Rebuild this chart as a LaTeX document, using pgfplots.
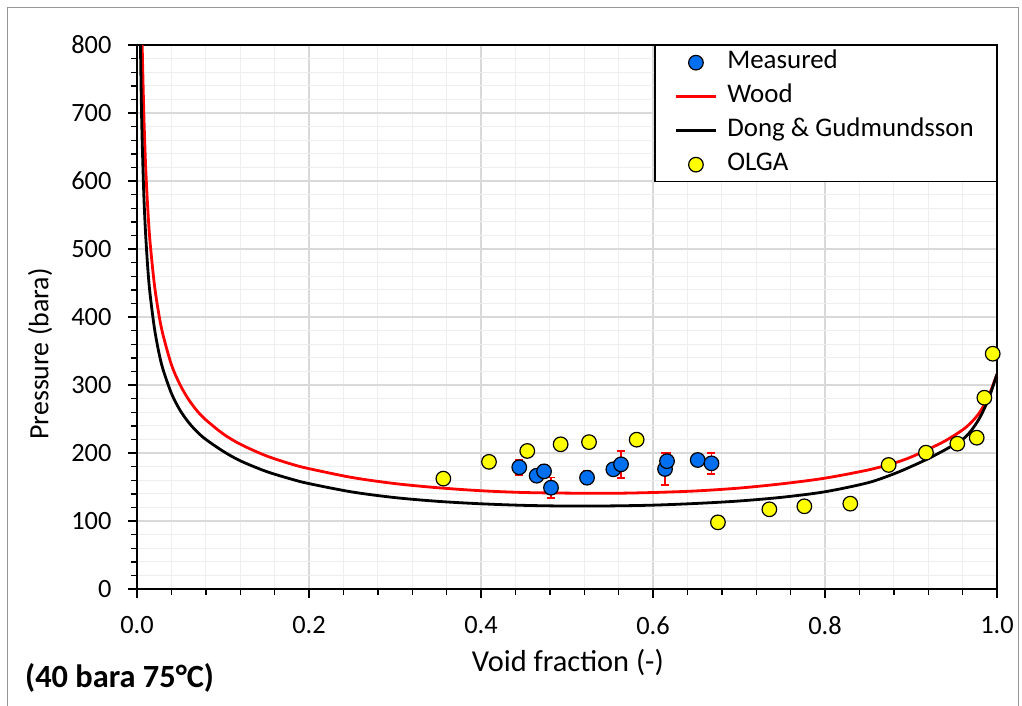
\documentclass[border=0pt]{standalone}
\usepackage{fontspec}
\setmainfont{Carlito}
\usepackage{pgfplots}
\pgfplotsset{compat=1.18}
\definecolor{mblue}{RGB}{0,112,240}
\definecolor{oyellow}{RGB}{255,255,0}
\definecolor{majgrid}{RGB}{217,217,217}
\definecolor{mingrid}{RGB}{238,238,238}
\definecolor{framegray}{RGB}{150,150,150}
\begin{document}
\begin{tikzpicture}
\useasboundingbox (0,0) rectangle (1022bp,706bp);
\draw[framegray, line width=1bp] (7bp,-10bp) rectangle (1018bp,698bp);
\begin{axis}[
  at={(137bp,117bp)}, anchor=south west,
  width=860bp, height=544bp, scale only axis,
  xmin=0, xmax=1, ymin=0, ymax=800,
  xtick={0,0.2,0.4,0.6,0.8,1},
  ytick={0,100,200,300,400,500,600,700,800},
  minor x tick num=4, minor y tick num=4,
  grid=both,
  major grid style={majgrid, line width=1.2bp},
  minor grid style={mingrid, line width=1.2bp},
  axis line style={black, line width=1.8bp},
  tick align=outside, tick pos=left,
  major tick length=9bp, minor tick length=6bp,
  every tick/.style={black, line width=1.4bp},
  x tick label style={/pgf/number format/fixed, /pgf/number format/fixed zerofill, /pgf/number format/precision=1, yshift=-15bp},
  y tick label style={xshift=-13bp},
  /pgf/number format/assume math mode=true,
  tick label style={font=\fontsize{26.5}{30}\selectfont},
  xlabel={Void fraction (-)}, ylabel={Pressure (bara)},
  xlabel style={at={(axis description cs:0.501,-0.136)}, anchor=center, font=\fontsize{30.5}{34}\selectfont},
  ylabel style={at={(axis description cs:-0.1128,0.432)}, anchor=center, font=\fontsize{28}{32}\selectfont},
  legend cell align=left,
  legend style={at={(1,1)}, anchor=north east, draw=black, line width=1.3bp, fill=white,
    font=\fontsize{27}{30}\selectfont, inner xsep=19.5bp, inner ysep=1bp, row sep=2bp,
    nodes={inner sep=3bp, text height=19bp, text depth=7bp},
    /tikz/every odd column/.append style={column sep=7bp}},
  legend image code/.code={\draw[mark repeat=2,mark phase=2,#1] plot coordinates {(0bp,0bp) (20bp,0bp) (40bp,0bp)};},
]
\addlegendimage{only marks, mark=*, mark size=7.3bp, mark options={fill=mblue, draw=black, line width=1.2bp}}
\addlegendentry{Measured}
\addlegendimage{red, line width=2.8bp}
\addlegendentry{Wood}
\addlegendimage{black, line width=2.8bp}
\addlegendentry{Dong \& Gudmundsson}
\addlegendimage{only marks, mark=*, mark size=7.3bp, mark options={fill=oyellow, draw=black, line width=1.2bp}}
\addlegendentry{OLGA}

% Wood
\addplot[red, line width=2.8bp, smooth, forget plot] coordinates {
(0.0060,800) (0.0080,696) (0.0100,623) (0.0125,560) (0.0150,513) (0.0200,450)
(0.0250,407) (0.0300,375) (0.0400,330) (0.0500,300.5) (0.0600,278.7) (0.0700,261.8)
(0.0800,248.8) (0.1000,228.3) (0.1200,213) (0.1500,196) (0.1800,183.5) (0.2000,177)
(0.2500,164) (0.3000,155) (0.3500,148.9) (0.4000,144.5) (0.4500,141.9) (0.5000,141)
(0.5500,140.7) (0.6000,141.9) (0.6500,144.2) (0.7000,148.4) (0.7500,154.7) (0.8000,163)
(0.8500,175) (0.8800,185) (0.9000,194) (0.9200,205.5) (0.9400,218) (0.9600,234)
(0.9700,245) (0.9800,260) (0.9900,283) (1.0000,316)
};
% Dong & Gudmundsson
\addplot[black, line width=2.8bp, smooth, forget plot] coordinates {
(0.0040,800) (0.0050,719) (0.0060,660) (0.0080,577) (0.0100,522.6) (0.0125,472.5)
(0.0150,436) (0.0200,385.7) (0.0250,350.4) (0.0300,324) (0.0400,287.8) (0.0500,263)
(0.0600,245) (0.0700,231) (0.0800,220) (0.1000,202.7) (0.1200,188.6) (0.1500,173)
(0.1800,161.4) (0.2000,155) (0.2500,142.7) (0.3000,134.4) (0.3500,128.9) (0.4000,125.3)
(0.4500,123) (0.5000,122) (0.5500,122.2) (0.6000,123.3) (0.6500,125.8) (0.7000,129.4)
(0.7500,134.9) (0.8000,143) (0.8500,156.3) (0.8800,169.3) (0.9000,180) (0.9200,191.7)
(0.9400,205) (0.9600,220) (0.9700,233) (0.9800,252) (0.9900,279) (1.0000,316)
};
% Measured
\addplot[only marks, mark=*, mark size=7.3bp, mark options={fill=mblue, draw=black, line width=1.2bp}, forget plot,
  error bars/.cd, y dir=both, y explicit,
  error bar style={red, line width=1.8bp},
  error mark options={rotate=90, red, mark size=4bp, line width=1.8bp}]
coordinates {
(0.4445,179) +- (0,11)
(0.4647,166.6) +- (0,6)
(0.4733,173) +- (0,9)
(0.4814,149) +- (0,15)
(0.5233,163.7) +- (0,10)
(0.5539,176) +- (0,6)
(0.5628,183.3) +- (0,20)
(0.6140,176.5) +- (0,24)
(0.6163,188) +- (0,12)
(0.6520,189.7) +- (0,6)
(0.6680,184.8) +- (0,15.5)
};
% OLGA
\addplot[only marks, mark=*, mark size=7.3bp, mark options={fill=oyellow, draw=black, line width=1.2bp}, forget plot]
coordinates {
(0.3562,162.3) (0.4093,187) (0.4538,203) (0.4926,212.8) (0.5256,216) (0.5810,219.6)
(0.6755,98) (0.7353,117.2) (0.7760,121.6) (0.8294,125.5) (0.8740,182.4) (0.9174,200.5)
(0.9539,213.7) (0.9764,222.5) (0.9853,281.3) (0.9950,346)
};
\end{axis}
\node[anchor=west, inner sep=0pt, font=\bfseries\fontsize{32.5}{36}\selectfont] at (25bp,28bp) {(40 bara 75°C)};
\end{tikzpicture}
\end{document}
